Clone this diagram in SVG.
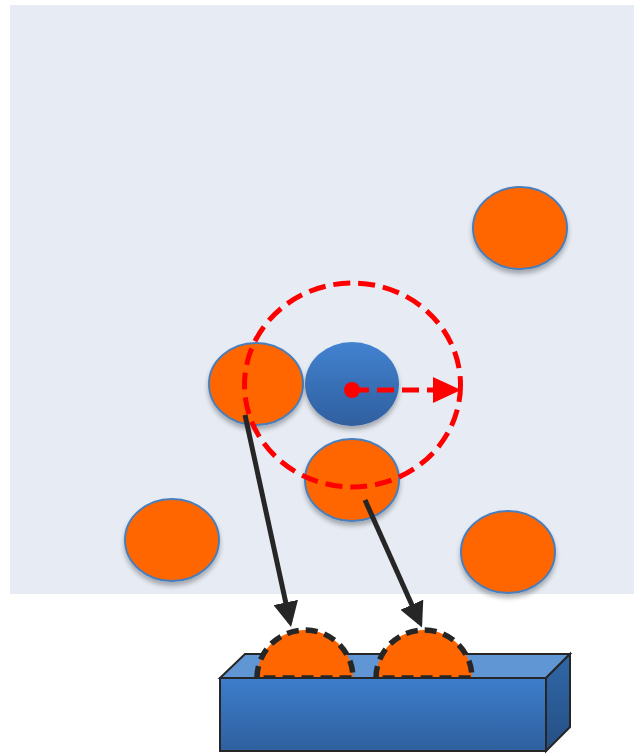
<svg xmlns="http://www.w3.org/2000/svg" width="634" height="754" viewBox="0 0 634 754">
<defs>
<style>
.orange{fill:#ff6600;stroke:#4a7ebb;stroke-width:2;filter:url(#sh)}
.conn{stroke:#262626;stroke-width:5;fill:none;marker-end:url(#ah)}
.red{stroke:#ff0000;stroke-width:5;fill:none;stroke-dasharray:17 8}
.cap{fill:#ff6600;stroke:#262626;stroke-width:5.5;stroke-dasharray:12 7}
</style>
<linearGradient id="bg" x1="0" y1="0" x2="0" y2="1"><stop offset="0" stop-color="#4282d0"/><stop offset="1" stop-color="#2f5f9f"/></linearGradient>
<linearGradient id="front" x1="0" y1="0" x2="0" y2="1"><stop offset="0" stop-color="#3d7dcb"/><stop offset="1" stop-color="#2f609f"/></linearGradient>
<linearGradient id="side" x1="0" y1="0" x2="0" y2="1"><stop offset="0" stop-color="#3067a8"/><stop offset="1" stop-color="#254f84"/></linearGradient>
<filter id="sh" x="-20%" y="-20%" width="140%" height="150%"><feGaussianBlur in="SourceAlpha" stdDeviation="2.5"/><feOffset dy="4"/><feComponentTransfer><feFuncA type="linear" slope="0.3"/></feComponentTransfer><feMerge><feMergeNode/><feMergeNode in="SourceGraphic"/></feMerge></filter>
<marker id="ah" markerWidth="5" markerHeight="5" refX="4" refY="2.5" orient="auto" markerUnits="strokeWidth"><path d="M0,0 L5,2.5 L0,5 Z" fill="#262626"/></marker>
<clipPath id="capclip"><rect x="0" y="0" width="634" height="678"/></clipPath>
</defs>
<rect x="10" y="5" width="624" height="589" fill="#e7ecf4"/>
<g id="node-tr"><ellipse class="orange" cx="520" cy="228" rx="47" ry="41"/></g>
<g id="node-left"><ellipse class="orange" cx="256" cy="384" rx="47" ry="41"/></g>
<g id="node-blue"><ellipse cx="352" cy="384" rx="47" ry="42" fill="url(#bg)" filter="url(#sh)"/></g>
<g id="node-bc"><ellipse class="orange" cx="352" cy="480" rx="47" ry="41"/></g>
<g id="node-bl"><ellipse class="orange" cx="172" cy="540" rx="47" ry="41"/></g>
<g id="node-br"><ellipse class="orange" cx="508" cy="552" rx="47" ry="41"/></g>
<g id="radius">
<ellipse class="red" cx="352.5" cy="385" rx="108" ry="102"/>
<circle cx="352" cy="390" r="8" fill="#ff0000"/>
<line class="red" x1="352" y1="390" x2="436" y2="390" stroke-dasharray="14 7"/>
<polygon points="433,377 461,390 433,403" fill="#ff0000"/>
</g>
<g id="box">
<polygon points="220,678 245,654 570,654 546,678" fill="#6096d4" stroke="#262626" stroke-width="2"/>
<g clip-path="url(#capclip)">
<path class="cap" d="M257,678 A48,48 0 0 1 353,678 Z"/>
<path class="cap" d="M376,678 A48,48 0 0 1 472,678 Z"/>
</g>
<polygon points="546,678 570,654 570,727 546,751" fill="url(#side)" stroke="#262626" stroke-width="2"/>
<rect x="220" y="678" width="326" height="73" fill="url(#front)" stroke="#262626" stroke-width="2"/>
</g>
<g id="connectors">
<line class="conn" x1="245" y1="415" x2="290" y2="622"/>
<line class="conn" x1="365" y1="500" x2="420" y2="623"/>
</g>
</svg>
